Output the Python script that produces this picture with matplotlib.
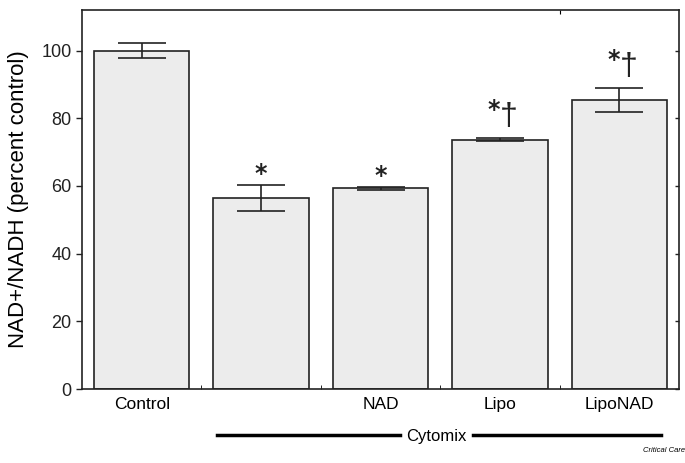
import matplotlib
matplotlib.use("Agg")
import matplotlib.pyplot as plt
from matplotlib.lines import Line2D

plt.rcParams['font.family'] = ['Liberation Sans', 'DejaVu Sans']

categories = ["Control", "", "NAD", "Lipo", "LipoNAD"]
values = [100.0, 56.4, 59.3, 73.7, 85.5]
errors = [2.3, 3.8, 0.35, 0.5, 3.5]
marks = ["", "*", "*", "*\u2020", "*\u2020"]
yticks = [0, 20, 40, 60, 80, 100]

fig = plt.figure(figsize=(6.85, 4.63), dpi=100)
ax = fig.add_axes([82/685, 1-389/463, (679-82)/685, (389-10)/463])

x = list(range(len(categories)))
ax.bar(x, values, width=0.8, color="#ececec", edgecolor="#222222", linewidth=1.2, zorder=2)
ax.errorbar(x, values, yerr=errors, fmt="none", ecolor="#222222", elinewidth=1.2,
            capsize=17.5, capthick=1.2, zorder=3)

for xi, v, e, m in zip(x, values, errors, marks):
    if not m:
        continue
    top = v + e
    if "\u2020" in m:
        ax.text(xi - 0.05, top + 8.3, "*", ha="center", va="center", fontsize=17,
                family="DejaVu Sans", weight="bold", color="#222222")
        ax.text(xi + 0.075, top + 6.3, "\u2020", ha="center", va="center", fontsize=23,
                family="Liberation Sans", color="#222222")
    else:
        ax.text(xi, top + 3.4, "*", ha="center", va="center", fontsize=17,
                family="DejaVu Sans", weight="bold", color="#222222")

ax.set_xlim(-0.5, 4.5)
ax.set_ylim(0, 112)
ax.set_yticks(yticks)
ax.set_yticklabels([str(t) for t in yticks], fontsize=13)
ax.tick_params(axis="y", direction="out", length=4, width=1, colors="#222222", labelcolor="#222222")
ax.set_xticks(x)
ax.set_xticklabels(categories, fontsize=12.5)
ax.tick_params(axis="x", length=0, pad=6)
ax.set_xticks([0.5, 1.5, 2.5, 3.5], minor=True)
ax.tick_params(axis="x", which="minor", direction="in", length=3)
ax.tick_params(axis="y", which="major", right=True)
for t in ax.yaxis.get_major_ticks():
    t.tick2line.set_marker(matplotlib.markers.TICKLEFT)
    t.tick2line.set_markersize(3)
sec = ax.secondary_xaxis("top")
sec.set_xticks([3.5])
sec.set_xticklabels([""])
sec.tick_params(direction="in", length=3)
sec.spines["top"].set_visible(False)
for s in ax.spines.values():
    s.set_color("#222222")
    s.set_linewidth(1.2)

ax.set_ylabel("NAD+/NADH (percent control)", fontsize=16, labelpad=9)

# Cytomix bracket line
fig.add_artist(Line2D([217/685, 400/685], [1-435/463, 1-435/463], color="black", lw=2.5))
fig.add_artist(Line2D([473/685, 661/685], [1-435/463, 1-435/463], color="black", lw=2.5))
fig.text(436.5/685, 1-436/463, "Cytomix", ha="center", va="center", fontsize=12)
fig.text(664/685, 1-450/463, "Critical Care", ha="center", va="center", fontsize=5.5, style="italic")

fig.savefig("out.png", dpi=100)
